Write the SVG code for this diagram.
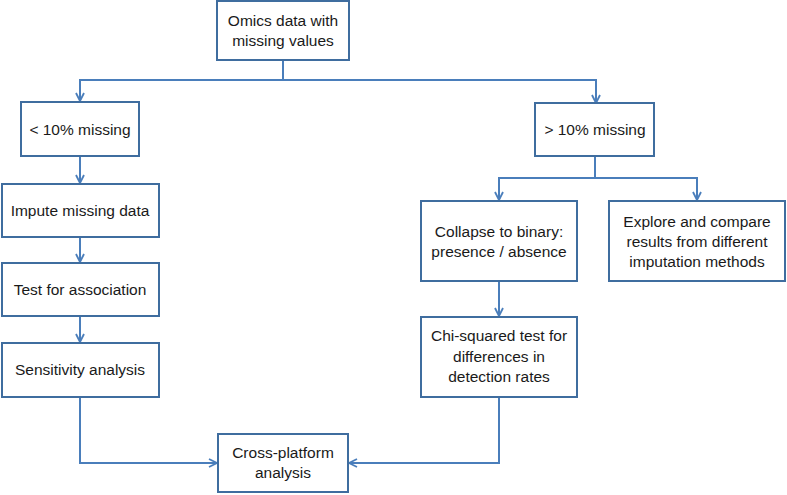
<svg xmlns="http://www.w3.org/2000/svg" width="787" height="495" viewBox="0 0 787 495">
<style>
.box{fill:#fff;stroke:#3f6d9f;stroke-width:2}
.t{font-family:"Liberation Sans",Arial,sans-serif;font-size:15.5px;fill:#1a1a1a;text-anchor:middle}
.c{fill:none;stroke:#4a7ebb;stroke-width:2}
</style>
<defs>
<marker id="ah" viewBox="0 0 10 10" refX="9" refY="5" markerWidth="10" markerHeight="10" markerUnits="userSpaceOnUse" orient="auto">
<polyline points="1,1 9,5 1,9" fill="none" stroke="#4a7ebb" stroke-width="1.8"/>
</marker>
</defs>
<rect width="787" height="495" fill="#fff"/>
<g id="connectors">
<polyline class="c" points="283,60 283,80"/>
<polyline class="c" points="80,102 80,80 596,80 596,103" marker-end="url(#ah)"/>
<line class="c" x1="80" y1="80" x2="80" y2="101" marker-end="url(#ah)"/>
<line class="c" x1="80" y1="156" x2="80" y2="183" marker-end="url(#ah)"/>
<line class="c" x1="80" y1="237" x2="80" y2="262" marker-end="url(#ah)"/>
<line class="c" x1="80" y1="316" x2="80" y2="342" marker-end="url(#ah)"/>
<polyline class="c" points="80,397 80,463 217,463" marker-end="url(#ah)"/>
<polyline class="c" points="595,156 595,178"/>
<polyline class="c" points="499,200 499,178 697,178 697,200" marker-end="url(#ah)"/>
<line class="c" x1="499" y1="178" x2="499" y2="200" marker-end="url(#ah)"/>
<line class="c" x1="499" y1="281" x2="499" y2="316" marker-end="url(#ah)"/>
<polyline class="c" points="499,397 499,463 349,463" marker-end="url(#ah)"/>
</g>
<g id="omics"><rect class="box" x="217" y="1" width="132" height="59"/><text class="t" x="283" y="26">Omics data with</text><text class="t" x="283" y="46">missing values</text></g>
<g id="lt10"><rect class="box" x="21" y="102" width="118" height="54"/><text class="t" x="80" y="135">&lt; 10% missing</text></g>
<g id="impute"><rect class="box" x="2" y="184" width="157" height="53"/><text class="t" x="80" y="216">Impute missing data</text></g>
<g id="test"><rect class="box" x="2" y="263" width="157" height="53"/><text class="t" x="80" y="295">Test for association</text></g>
<g id="sens"><rect class="box" x="2" y="343" width="157" height="54"/><text class="t" x="80" y="375">Sensitivity analysis</text></g>
<g id="gt10"><rect class="box" x="535" y="103" width="119" height="53"/><text class="t" x="595" y="135">&gt; 10% missing</text></g>
<g id="collapse"><rect class="box" x="421" y="201" width="156" height="80"/><text class="t" x="499" y="237">Collapse to binary:</text><text class="t" x="499" y="257">presence / absence</text></g>
<g id="explore"><rect class="box" x="609" y="201" width="176" height="80"/><text class="t" x="697" y="227">Explore and compare</text><text class="t" x="697" y="247">results from different</text><text class="t" x="697" y="267">imputation methods</text></g>
<g id="chi"><rect class="box" x="421" y="317" width="156" height="80"/><text class="t" x="499" y="341">Chi-squared test for</text><text class="t" x="499" y="362">differences in</text><text class="t" x="499" y="382">detection rates</text></g>
<g id="cross"><rect class="box" x="218" y="434" width="130" height="58"/><text class="t" x="283" y="458">Cross-platform</text><text class="t" x="283" y="478">analysis</text></g>
</svg>
